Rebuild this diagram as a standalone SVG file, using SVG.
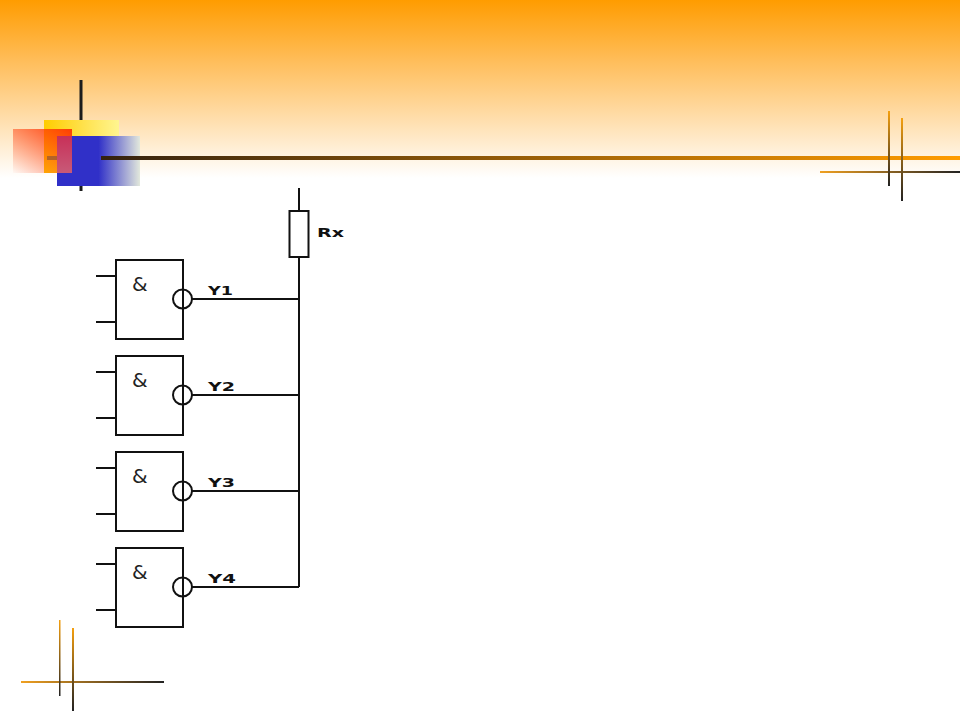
<svg xmlns="http://www.w3.org/2000/svg" width="960" height="711" viewBox="0 0 960 711">
<style>
.w{fill:none;stroke:#111;stroke-width:2}
.b{fill:#fff;stroke:#111;stroke-width:2}
.l{font-family:"DejaVu Sans","Liberation Sans",sans-serif;font-weight:bold;font-size:11.5px;fill:#111}
.a{font-family:"DejaVu Sans","Liberation Sans",sans-serif;font-size:20px;fill:#222}
</style>
<defs>
<linearGradient id="bg" x1="0" y1="0" x2="0" y2="1"><stop offset="0" stop-color="#ff9c00"/><stop offset="0.35" stop-color="#ffbe5c"/><stop offset="1" stop-color="#ffffff"/></linearGradient>
<linearGradient id="yel" x1="0" y1="0" x2="1" y2="0"><stop offset="0" stop-color="#ffcc00"/><stop offset="1" stop-color="#fff590" /></linearGradient>
<linearGradient id="red" x1="1" y1="0" x2="0" y2="1"><stop offset="0" stop-color="#ff3300" stop-opacity="0.95"/><stop offset="1" stop-color="#ff3300" stop-opacity="0.02"/></linearGradient>
<linearGradient id="blu" x1="0" y1="0" x2="1" y2="0"><stop offset="0" stop-color="#3030c8"/><stop offset="0.5" stop-color="#3030c8"/><stop offset="1" stop-color="#e2e8dc"/></linearGradient>
<linearGradient id="ov" x1="0" y1="0" x2="0" y2="1"><stop offset="0" stop-color="#c83058"/><stop offset="1" stop-color="#c85a78"/></linearGradient>
<linearGradient id="hl" gradientUnits="userSpaceOnUse" x1="100" y1="0" x2="960" y2="0"><stop offset="0" stop-color="#33210f"/><stop offset="1" stop-color="#ff9c00"/></linearGradient>
<linearGradient id="rh" gradientUnits="userSpaceOnUse" x1="820" y1="0" x2="960" y2="0"><stop offset="0" stop-color="#f0a020"/><stop offset="1" stop-color="#222"/></linearGradient>
<linearGradient id="lh" gradientUnits="userSpaceOnUse" x1="21" y1="0" x2="164" y2="0"><stop offset="0" stop-color="#f0a020"/><stop offset="1" stop-color="#222"/></linearGradient>
<linearGradient id="v1" x1="0" y1="0" x2="0" y2="1"><stop offset="0" stop-color="#f5a010"/><stop offset="1" stop-color="#222"/></linearGradient>
<g id="gate">
<rect class="b" x="116" y="260" width="67" height="79"/>
<path class="w" d="M96 276H116M96 322H116"/>
<circle class="w" cx="182.500" cy="299" r="9.500"/>
</g>
</defs>
<rect id="background" width="960" height="178" fill="url(#bg)"/>
<g id="decoration">
<rect x="79.500" y="80" width="3" height="111" fill="#1c1c1c"/>
<rect x="44" y="120" width="75" height="53" fill="url(#yel)"/>
<rect x="13" y="129" width="59" height="44" fill="url(#red)"/>
<rect x="47" y="156" width="25" height="4" fill="#a05a30" opacity="0.8"/>
<rect x="57" y="136" width="83" height="50" fill="url(#blu)"/>
<rect x="57" y="136" width="15" height="37" fill="url(#ov)"/>
<rect x="101" y="156" width="859" height="4" fill="url(#hl)"/>
<rect x="820" y="171" width="140" height="2" fill="url(#rh)"/>
<rect x="888" y="111" width="2" height="75" fill="url(#v1)"/>
<rect x="901" y="118" width="2" height="83" fill="url(#v1)"/>
<rect x="21" y="681" width="143" height="2" fill="url(#lh)"/>
<rect x="59" y="620" width="1.500" height="76" fill="url(#v1)"/>
<rect x="72" y="628" width="2" height="83" fill="url(#v1)"/>
</g>
<g id="connectors">
<path class="w" d="M299 188V211M299 257V587"/>
<path class="w" d="M192 299H299M192 395H299M192 491H299M192 587H299"/>
</g>
<g id="resistor">
<rect class="b" x="289.500" y="211" width="19" height="46"/>
<text class="l" x="317" y="237" textLength="27" lengthAdjust="spacingAndGlyphs">Rx</text>
</g>
<g id="gate1"><use href="#gate"/><text class="a" x="132" y="291">&amp;</text><text class="l" x="208" y="295" textLength="25" lengthAdjust="spacingAndGlyphs">Y1</text></g>
<g id="gate2"><use href="#gate" y="96"/><text class="a" x="132" y="387">&amp;</text><text class="l" x="208" y="391" textLength="27" lengthAdjust="spacingAndGlyphs">Y2</text></g>
<g id="gate3"><use href="#gate" y="192"/><text class="a" x="132" y="483">&amp;</text><text class="l" x="208" y="487" textLength="27" lengthAdjust="spacingAndGlyphs">Y3</text></g>
<g id="gate4"><use href="#gate" y="288"/><text class="a" x="132" y="579">&amp;</text><text class="l" x="208" y="583" textLength="28" lengthAdjust="spacingAndGlyphs">Y4</text></g>
</svg>
